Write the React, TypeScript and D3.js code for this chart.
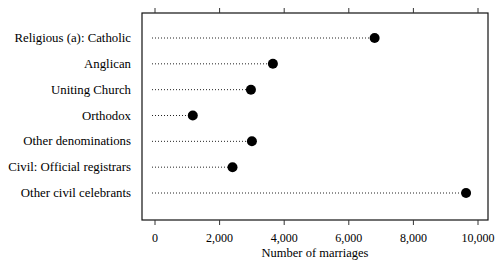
import React from 'react';
import * as d3 from 'd3';

const categories = [
  'Religious (a): Catholic',
  'Anglican',
  'Uniting Church',
  'Orthodox',
  'Other denominations',
  'Civil: Official registrars',
  'Other civil celebrants',
];
const marriages = [6800, 3650, 2970, 1170, 3000, 2400, 9630];
const xTicks = [0, 2000, 4000, 6000, 8000, 10000];

const W = 497;
const H = 260;
const box = { left: 142, right: 488, top: 13, bottom: 220 };

export default function App() {
  const x = d3.scaleLinear().domain([0, 10000]).range([155, 478]);
  const y = d3
    .scalePoint<string>()
    .domain(categories)
    .range([38, 193]);
  const fmt = d3.format(',');
  const font = '"Liberation Serif", "Times New Roman", serif';

  return (
    <svg
      width={W}
      height={H}
      style={{ position: 'absolute', left: 0, top: 0, background: '#fff' }}
      fontFamily={font}
    >
      {/* frame */}
      <rect
        x={box.left}
        y={box.top}
        width={box.right - box.left}
        height={box.bottom - box.top}
        fill="none"
        stroke="#111"
        strokeWidth={1.2}
      />
      {xTicks.map((t) => (
        <g key={t}>
          <line x1={x(t)} x2={x(t)} y1={box.top - 5} y2={box.top} stroke="#333" strokeWidth={1} />
          <line x1={x(t)} x2={x(t)} y1={box.bottom} y2={box.bottom + 5} stroke="#333" strokeWidth={1} />
          <text x={x(t)} y={242} textAnchor="middle" fontSize={12} fill="#000">
            {fmt(t)}
          </text>
        </g>
      ))}
      <text x={315} y={257} textAnchor="middle" fontSize={12.5} fill="#000">
        Number of marriages
      </text>
      {categories.map((c, i) => (
        <g key={c}>
          <text x={131} y={y(c)! + 4} textAnchor="end" fontSize={12.8} fill="#000">
            {c}
          </text>
          <line
            x1={x(0) - 3}
            x2={x(marriages[i])}
            y1={y(c)}
            y2={y(c)}
            stroke="#222"
            strokeWidth={1}
            strokeDasharray="1,2"
          />
          <circle cx={x(marriages[i])} cy={y(c)} r={5} fill="#000" />
        </g>
      ))}
    </svg>
  );
}
